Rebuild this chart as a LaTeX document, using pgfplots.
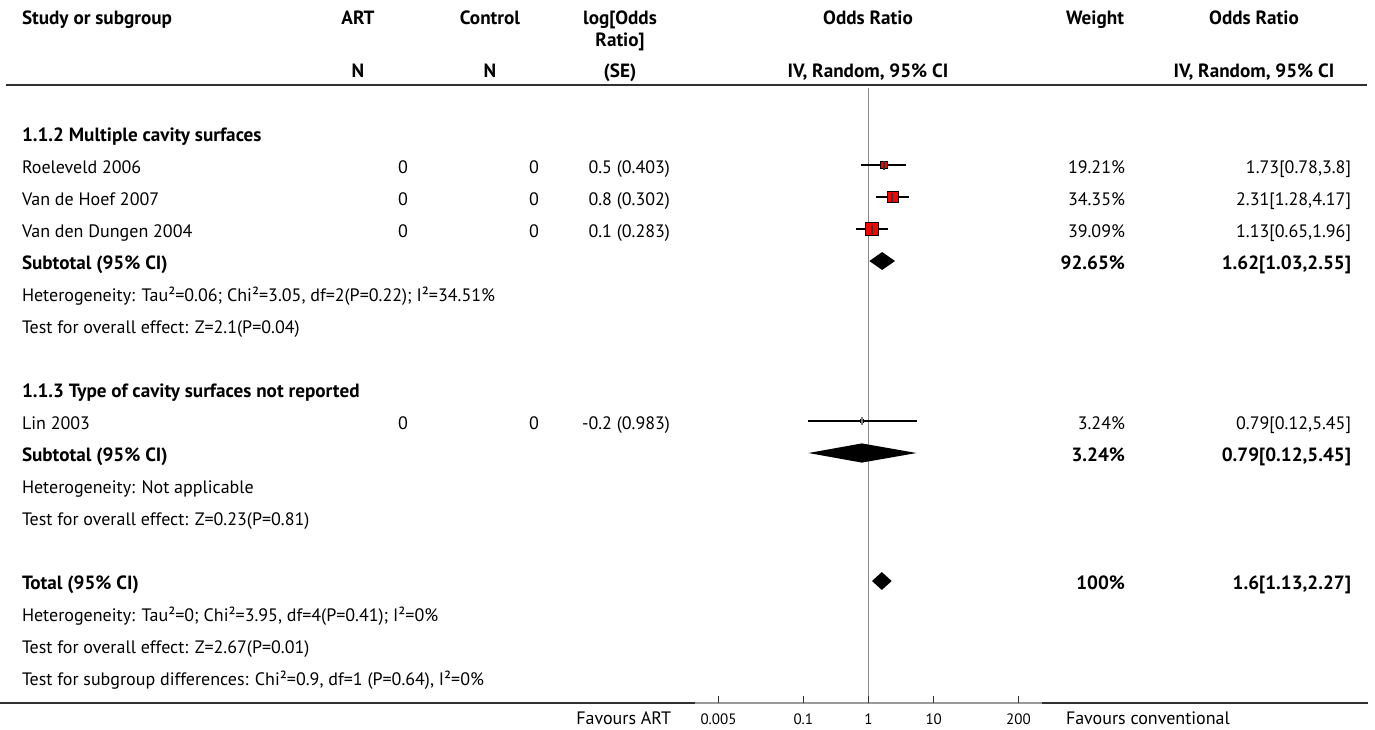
\documentclass[border=0pt]{standalone}
\usepackage{pgfplots}
\pgfplotsset{compat=1.18}
\usepackage{fontspec}
\setmainfont{PT Sans}
\definecolor{vline}{HTML}{8C8C8C}
\definecolor{axgray}{HTML}{9A9A9A}
\definecolor{tickc}{HTML}{333333}
\definecolor{rulec}{HTML}{303030}
\newlength\tw
\begin{document}%
\settowidth\tw{\fontsize{10bp}{12bp}\selectfont Test for subgroup differences: Chi²=0.9, df=1 (P=0.64), I²=0\%}%
\pgfmathsetmacro\fs{10*462*1.00375/\tw}%
\pgfmathsetmacro\fsb{1.065*\fs}%
\settowidth\tw{\fontsize{10bp}{12bp}\selectfont 0.005}%
\pgfmathsetmacro\ts{10*36*1.00375/\tw}%
\newcommand\tf{\fontsize{\fs bp}{\fs bp}\selectfont}%
\newcommand\tfb{\fontsize{\fsb bp}{\fsb bp}\selectfont\bfseries}%
\newcommand\tkf{\fontsize{\ts bp}{\ts bp}\selectfont}%
\begin{tikzpicture}[x=1bp,y=-1bp]
\tikzset{every node/.style={inner sep=0pt, outer sep=0pt, font=\tf}}
\useasboundingbox (0,0) rectangle (1375,729);
\fill[white] (0,0) rectangle (1375,729);

% rows are numbered downwards: row k sits at y = -k
\begin{axis}[at={(695bp,-703bp)}, anchor=south west, scale only axis,
  width=347bp, height=618bp,
  xmode=log, xmin=0.00218, xmax=459,
  ymin=-18.8125, ymax=0.5,
  axis x line*=bottom, axis y line=none,
  x axis line style={axgray, line width=1.6bp},
  xtick={0.005,0.1,1,10,200}, xticklabels={0.005,0.1,1,10,200},
  minor xtick={}, xtick pos=left,
  tick align=inside, major tick length=7bp,
  every tick/.style={tickc, line width=1bp},
  xticklabel style={font=\tkf, anchor=base, yshift=-21bp, inner sep=0pt},
  clip=false]
% line of no effect
\addplot[vline, line width=1.3bp] coordinates {(1,0.4) (1,-18.8125)};
% confidence intervals of the studies
\addplot[black, line width=1.2bp] coordinates {(0.78,-2) (3.8,-2)};
\addplot[black, line width=1.2bp] coordinates {(1.28,-3) (4.17,-3)};
\addplot[black, line width=1.2bp] coordinates {(0.65,-4) (1.96,-4)};
\addplot[black, line width=1.2bp] coordinates {(0.12,-10) (5.45,-10)};
% weight squares
\addplot[only marks, mark=square*, mark options={fill=red, draw=none}, mark size=3.5bp] coordinates {(1.73,-2)};
\addplot[only marks, mark=square*, mark options={fill=red, draw=none}, mark size=5.5bp] coordinates {(2.31,-3)};
\addplot[only marks, mark=square*, mark options={fill=red, draw=none}, mark size=6.5bp] coordinates {(1.13,-4)};
\addplot[only marks, mark=square*, mark options={fill=red, draw=none}, mark size=1.4bp] coordinates {(0.79,-10)};
% point estimates
\addplot[only marks, mark=|, mark options={draw=tickc, line width=2bp}, mark size=4.5bp] coordinates {(1.73,-2) (2.31,-3) (1.13,-4)};
\addplot[only marks, mark=|, mark options={draw=gray, line width=1.6bp}, mark size=4bp] coordinates {(0.79,-10)};
% pooled diamonds
\addplot[fill=black, draw=none] coordinates {(1.03,-5) (1.62,-4.72) (2.55,-5) (1.62,-5.28)} -- cycle;
\addplot[fill=black, draw=none] coordinates {(0.12,-11) (0.79,-10.70) (5.45,-11) (0.79,-11.30)} -- cycle;
\addplot[fill=black, draw=none] coordinates {(1.13,-15) (1.6,-14.72) (2.27,-15) (1.6,-15.28)} -- cycle;
% axis tick marks (pointing up from the scale line)
\draw[tickc, line width=1.1bp] (axis cs:0.005,-18.8125) -- ++(0bp,7bp);
\draw[tickc, line width=1.1bp] (axis cs:0.1,-18.8125) -- ++(0bp,7bp);
\draw[tickc, line width=1.1bp] (axis cs:1,-18.8125) -- ++(0bp,7bp);
\draw[tickc, line width=1.1bp] (axis cs:10,-18.8125) -- ++(0bp,7bp);
\draw[tickc, line width=1.1bp] (axis cs:200,-18.8125) -- ++(0bp,7bp);
\end{axis}

% rules
\draw[rulec, line width=1.5bp] (6,85) -- (1367,85);
\draw[rulec, line width=1.5bp] (0,703) -- (695,703);
\draw[rulec, line width=1.5bp] (1042,703) -- (1368,703);

% header
\node[anchor=base west, font=\tfb] at (22,25) {Study or subgroup};
\node[anchor=base, font=\tfb] at (358,25) {ART};
\node[anchor=base, font=\tfb] at (490,25) {Control};
\node[anchor=base, font=\tfb] at (620,25) {log[Odds};
\node[anchor=base, font=\tfb] at (620,47) {Ratio]};
\node[anchor=base, font=\tfb] at (868,25) {Odds Ratio};
\node[anchor=base, font=\tfb] at (1095,25) {Weight};
\node[anchor=base, font=\tfb] at (1254,25) {Odds Ratio};
\node[anchor=base, font=\tfb] at (358,78) {N};
\node[anchor=base, font=\tfb] at (490,78) {N};
\node[anchor=base, font=\tfb] at (620,78) {(SE)};
\node[anchor=base, font=\tfb] at (868,78) {IV, Random, 95\% CI};
\node[anchor=base, font=\tfb] at (1254,78) {IV, Random, 95\% CI};

% subgroup 1.1.2
\node[anchor=base west, font=\tfb] at (22,141) {1.1.2 Multiple cavity surfaces};
\node[anchor=base west] at (22,173) {Roeleveld 2006};
\node[anchor=base east] at (408,173) {0};
\node[anchor=base east] at (539,173) {0};
\node[anchor=base east] at (670,173) {0.5 (0.403)};
\node[anchor=base east] at (1125,173) {19.21\%};
\node[anchor=base east] at (1351,173) {1.73[0.78,3.8]};
\node[anchor=base west] at (22,205) {Van de Hoef 2007};
\node[anchor=base east] at (408,205) {0};
\node[anchor=base east] at (539,205) {0};
\node[anchor=base east] at (670,205) {0.8 (0.302)};
\node[anchor=base east] at (1125,205) {34.35\%};
\node[anchor=base east] at (1351,205) {2.31[1.28,4.17]};
\node[anchor=base west] at (22,237) {Van den Dungen 2004};
\node[anchor=base east] at (408,237) {0};
\node[anchor=base east] at (539,237) {0};
\node[anchor=base east] at (670,237) {0.1 (0.283)};
\node[anchor=base east] at (1125,237) {39.09\%};
\node[anchor=base east] at (1351,237) {1.13[0.65,1.96]};
\node[anchor=base west, font=\tfb] at (22,269) {Subtotal (95\% CI)};
\node[anchor=base east, font=\tfb] at (1125,269) {92.65\%};
\node[anchor=base east, font=\tfb] at (1351,269) {1.62[1.03,2.55]};
\node[anchor=base west] at (22,301) {Heterogeneity: Tau²=0.06; Chi²=3.05, df=2(P=0.22); I²=34.51\%};
\node[anchor=base west] at (22,333) {Test for overall effect: Z=2.1(P=0.04)};

% subgroup 1.1.3
\node[anchor=base west, font=\tfb] at (22,397) {1.1.3 Type of cavity surfaces not reported};
\node[anchor=base west] at (22,429) {Lin 2003};
\node[anchor=base east] at (408,429) {0};
\node[anchor=base east] at (539,429) {0};
\node[anchor=base east] at (670,429) {-0.2 (0.983)};
\node[anchor=base east] at (1125,429) {3.24\%};
\node[anchor=base east] at (1351,429) {0.79[0.12,5.45]};
\node[anchor=base west, font=\tfb] at (22,461) {Subtotal (95\% CI)};
\node[anchor=base east, font=\tfb] at (1125,461) {3.24\%};
\node[anchor=base east, font=\tfb] at (1351,461) {0.79[0.12,5.45]};
\node[anchor=base west] at (22,493) {Heterogeneity: Not applicable};
\node[anchor=base west] at (22,525) {Test for overall effect: Z=0.23(P=0.81)};

% total
\node[anchor=base west, font=\tfb] at (22,589) {Total (95\% CI)};
\node[anchor=base east, font=\tfb] at (1125,589) {100\%};
\node[anchor=base east, font=\tfb] at (1351,589) {1.6[1.13,2.27]};
\node[anchor=base west] at (22,621) {Heterogeneity: Tau²=0; Chi²=3.95, df=4(P=0.41); I²=0\%};
\node[anchor=base west] at (22,653) {Test for overall effect: Z=2.67(P=0.01)};
\node[anchor=base west] at (22,685) {Test for subgroup differences: Chi²=0.9, df=1 (P=0.64), I²=0\%};

% favours
\node[anchor=base east] at (671,724) {Favours ART};
\node[anchor=base west] at (1066,724) {Favours conventional};
\end{tikzpicture}
\end{document}
